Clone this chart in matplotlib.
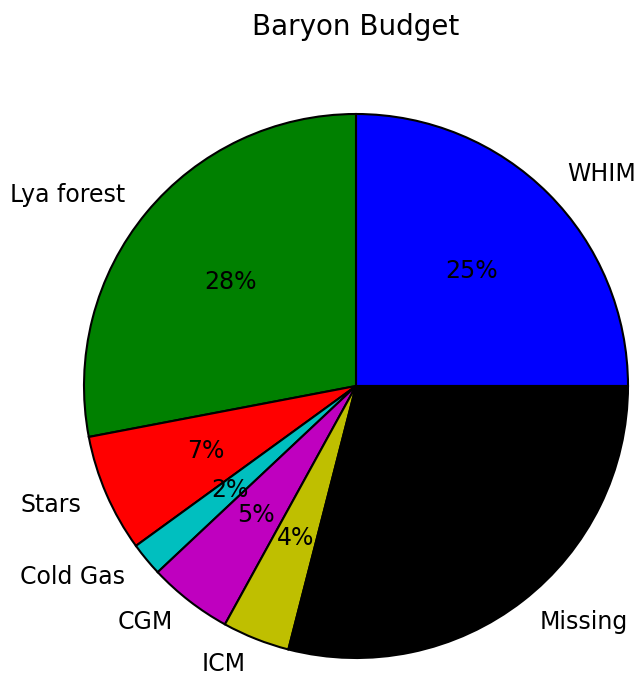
import numpy as np
import matplotlib
matplotlib.use('Agg')
import matplotlib.pyplot as plt

labels = ['WHIM', 'Lya forest', 'Stars', 'Cold Gas', 'CGM', 'ICM', 'Missing']
fractions = [25, 28, 7, 2, 5, 4, 29]
colors = ['b', 'g', 'r', 'c', 'm', 'y', 'k']

fig = plt.figure(figsize=(6.35, 6.75), dpi=100)
ax = fig.add_axes([84 / 635, 17 / 675, 544 / 635, 544 / 675])
wedges, texts, autotexts = ax.pie(fractions, labels=labels, colors=colors,
                                  autopct='%1.0f%%', startangle=0,
                                  wedgeprops={'edgecolor': 'k', 'linewidth': 1.5},
                                  textprops={'fontsize': 17})
ax.set_xlim(-1, 1)
ax.set_ylim(-1, 1)
ax.set_aspect('equal')
fig.text(356 / 635, 1 - 27 / 675, 'Baryon Budget', fontsize=20,
         ha='center', va='center')
fig.savefig('out.png', dpi=100)
